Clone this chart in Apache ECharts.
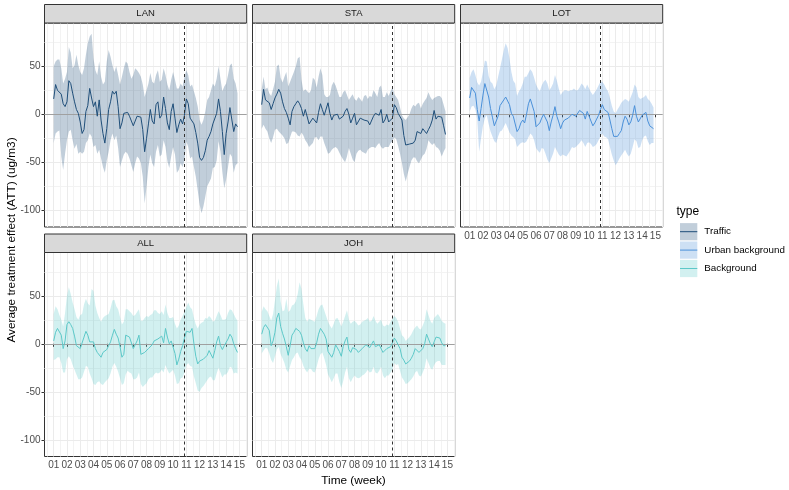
<!DOCTYPE html>
<html><head><meta charset="utf-8">
<script src="https://cdn.jsdelivr.net/npm/echarts@6/dist/echarts.min.js"></script>
<style>html,body{margin:0;padding:0;background:#fff}#c{width:789px;height:490px}</style>
</head><body><div id="c"></div>
<script>
// ---------- data ----------
const weekLabels = ['01','02','03','04','05','06','07','08','09','10','11','12','13','14','15'];
const weekTicks = [1,2,3,4,5,6,7,8,9,10,11,12,13,14,15];
const xMinorTicks = [0.5,1.5,2.5,3.5,4.5,5.5,6.5,7.5,8.5,9.5,10.5,11.5,12.5,13.5,14.5,15.5];
const yTicks = [-100,-50,0,50];
const yMinorTicks = [-75,-25,25,75];
const dayCount = 98;               // daily estimates, starting at week 01
const interventionDay = 69;        // dashed line
const panelNames = ['LAN','STA','LOT','ALL','JOH'];
const panelType = {LAN:'Traffic', STA:'Traffic', LOT:'Urban background', ALL:'Background', JOH:'Background'};
const typeNames = ['Traffic','Urban background','Background'];

const lanMean = [16,31,25,27,21,11,8,13,35,32, 22,13,5,1,-8,-20,-16,3,9,27, 17,8,13,-2,15,-6,-20,-30,-15,5, 13,24,21,24,8,-15,-9,1,3,2, -2,-7,-12,-7,-2,-1,-3,-16,-39,-25, -10,5,-7,-10,10,13,-4,-1,18,6, -9,-16,3,11,-4,-19,-11,-5,-10,-1, 16,11,-4,-2,-10,-19,-30,-45,-48,-45, -38,-27,-23,-18,-10,-10,1,16,3,-18, -42,-20,-8,7,5,-18,-10,-13];
const lanUpper = [50,55,57,57,48,32,37,44,70,64, 48,51,62,51,44,41,48,62,74,81, 84,58,46,41,55,39,31,34,55,67, 60,51,44,50,41,31,39,48,55,53, 44,37,41,48,46,43,39,31,18,25, 32,43,34,32,41,46,34,36,48,41, 31,25,36,44,36,27,27,32,29,39, 46,41,29,31,24,17,8,-6,-11,-6, 3,15,18,25,32,29,37,50,37,24, 29,32,41,51,53,37,32,22];
const lanLower = [-30,-20,-18,-17,-44,-58,-41,-27,-18,-16, -27,-36,-31,-41,-39,-41,-39,-30,-27,-20, -23,-34,-32,-41,-37,-46,-55,-61,-48,-39, -27,-20,-27,-22,-35,-55,-48,-42,-39,-41, -46,-53,-60,-51,-44,-46,-51,-65,-93,-75, -55,-42,-51,-55,-39,-32,-44,-42,-27,-34, -49,-56,-44,-34,-42,-61,-58,-51,-55,-48, -28,-34,-46,-44,-55,-65,-79,-94,-103,-96, -86,-75,-71,-67,-56,-55,-48,-28,-39,-60, -77,-68,-55,-41,-44,-61,-53,-51];

const staMean = [10,26,15,17,12,5,11,17,21,26, 22,13,6,2,-4,-11,3,8,11,14, 11,6,-2,5,6,-10,-12,-4,-6,-9, 2,11,5,-1,-2,12,1,-6,-1,-2, 0,-5,-5,-2,3,6,0,-9,-4,1, -11,-9,-4,-4,-6,-4,-7,-11,-9,-2, 1,3,-1,5,-9,-6,0,-8,-8,-4, 10,7,1,-1,-6,-22,-32,-33,-31,-33, -30,-27,-18,-17,-20,-15,-16,-20,-16,-12, -6,4,-5,-2,-1,-3,-12,-21];
const staUpper = [26,39,26,28,22,19,26,34,50,52, 38,33,39,44,29,34,39,44,50,58, 60,36,24,26,24,22,25,38,36,28, 39,48,41,21,18,18,20,30,34,30, 24,18,18,23,25,20,15,18,21,16, 14,18,16,13,19,20,16,19,18,25, 22,18,28,30,18,18,23,19,24,28, 21,18,15,7,-1,-4,-6,-3,0,6, 10,8,11,12,6,11,14,17,23,18, 15,17,18,19,19,17,10,3];
const staLower = [-15,-11,-15,-18,-25,-30,-24,-16,-15,-18, -20,-22,-25,-31,-30,-24,-18,-18,-19,-22, -23,-19,-22,-27,-30,-34,-32,-30,-24,-24, -27,-23,-23,-30,-35,-41,-40,-37,-35,-34, -36,-40,-44,-47,-50,-44,-35,-41,-47,-50, -41,-38,-37,-39,-40,-41,-37,-35,-34,-34, -35,-32,-30,-34,-36,-34,-34,-34,-30,-28, -24,-26,-33,-41,-51,-62,-70,-62,-55,-48, -45,-45,-49,-51,-47,-43,-41,-36,-27,-30, -32,-30,-34,-35,-38,-44,-39,-35];

const lotMean = [17,28,27,22,5,-7,6,20,32,32, 18,6,-3,-12,-12,-2,9,7,15,18, 16,10,1,-2,-1,-18,-15,-9,-6,-9, 0,11,16,14,3,-13,-12,-9,-4,0, -1,-8,-17,-8,-1,8,-2,-8,-15,-9, -6,-4,-4,-4,0,-2,-2,-1,4,6, 1,-5,3,5,-7,-12,-9,-5,-1,5, 10,5,5,2,-6,-15,-23,-24,-23,-20, -17,-8,-2,-5,-11,-8,-1,9,-2,-8, -9,-1,1,2,-7,-12,-12,-15];
const lotUpper = [38,44,47,41,33,30,34,44,56,55, 40,34,32,26,30,39,48,57,67,74, 69,58,44,35,32,19,24,27,32,39, 39,43,47,44,38,31,27,24,30,34, 36,32,25,28,32,41,35,27,20,23, 25,25,24,25,25,27,25,25,28,32, 30,26,31,27,23,20,23,26,30,34, 34,31,27,24,17,9,3,1,5,8, 12,14,16,15,13,18,23,31,28,18, 16,17,18,20,16,14,11,7];
const lotLower = [3,8,9,5,-6,-39,-25,-12,-4,-1, -10,-18,-23,-28,-30,-23,-18,-17,-13,-9, -14,-19,-22,-24,-26,-34,-32,-30,-29,-30, -28,-24,-20,-22,-27,-35,-38,-40,-35,-36, -41,-47,-51,-46,-41,-34,-38,-42,-44,-42, -43,-44,-41,-38,-34,-35,-34,-32,-30,-27, -30,-34,-30,-29,-31,-34,-33,-31,-27,-23, -20,-23,-24,-26,-34,-42,-48,-53,-50,-46, -43,-40,-37,-41,-44,-41,-34,-26,-28,-35, -34,-27,-23,-22,-28,-32,-30,-30];

const allMean = [3,12,16,17,9,-5,3,20,23,20, 16,8,-2,-4,-5,-6,7,13,9,2, 3,2,-5,-9,-9,-14,-9,-8,-6,-5, 2,9,15,10,6,-3,-14,-11,9,9, 7,5,-5,-1,3,9,-11,-12,-9,-8, -5,-3,-1,3,3,5,3,8,1,16, 7,0,3,2,-10,-22,-16,-8,-2,6, 13,11,12,16,0,-13,-21,-18,-17,-16, -16,-12,-7,-9,-15,-7,2,8,-2,-6, -2,-2,5,10,7,0,-5,-9];
const allUpper = [31,39,36,30,25,18,32,50,59,52, 43,36,28,25,30,31,41,47,42,40, 57,55,40,32,27,23,27,29,30,31, 37,45,46,39,36,28,20,23,36,36, 34,32,29,30,33,36,24,24,27,29, 28,30,31,35,35,32,31,34,30,41, 32,27,27,28,21,16,19,25,29,33, 38,43,38,36,27,20,16,20,22,23, 27,26,29,27,23,24,29,34,30,25, 25,26,32,36,35,31,27,24];
const allLower = [-17,-16,-14,-14,-20,-30,-30,-16,-13,-16, -22,-27,-32,-37,-37,-35,-29,-23,-24,-31, -36,-42,-43,-40,-39,-42,-43,-40,-38,-36, -31,-24,-20,-24,-29,-36,-43,-41,-32,-28, -30,-31,-37,-37,-35,-30,-42,-45,-43,-41, -37,-35,-35,-32,-30,-31,-30,-27,-30,-22, -27,-31,-29,-27,-33,-42,-41,-36,-35,-30, -22,-20,-23,-24,-34,-41,-49,-50,-46,-44, -41,-38,-35,-34,-38,-38,-31,-25,-30,-35, -32,-32,-29,-24,-25,-31,-30,-31];

const johMean = [10,17,20,18,14,-2,3,12,27,32, 18,11,5,-3,-12,-2,9,12,16,16, 13,9,1,-5,-8,-2,-5,-6,-5,1, 10,16,18,10,5,-8,-10,-14,-9,-1, 0,-8,-13,-3,3,7,-6,-9,-4,-3, -6,-9,-7,-5,-3,-1,0,-4,-2,3, -3,-4,-1,0,-9,-8,-5,-7,-3,1, 6,3,2,-5,-14,-17,-21,-20,-18,-15, -11,-5,-4,-9,-10,-5,0,10,5,0, -3,2,7,7,6,1,-2,-2];
const johUpper = [33,39,36,34,29,24,31,45,60,68, 44,34,35,47,33,35,40,41,44,52, 64,57,41,27,23,26,25,24,23,29, 36,40,41,35,29,23,19,16,21,26, 27,23,18,23,29,35,25,21,23,24, 22,19,20,23,24,25,27,23,24,29, 24,21,23,25,19,18,20,19,23,26, 29,27,23,16,9,7,3,5,7,10, 14,17,19,16,15,19,24,36,30,24, 21,27,29,31,28,24,22,21];
const johLower = [-10,-7,-4,-5,-10,-17,-20,-13,-6,-3, -11,-15,-20,-27,-30,-23,-17,-14,-10,-9, -14,-17,-23,-27,-30,-26,-26,-29,-30,-24, -16,-11,-9,-15,-22,-32,-36,-40,-36,-31, -31,-40,-46,-39,-30,-24,-36,-40,-36,-33, -35,-36,-35,-33,-32,-30,-27,-30,-29,-24, -30,-31,-28,-24,-33,-36,-33,-33,-30,-27, -20,-22,-21,-28,-35,-38,-42,-41,-39,-37, -34,-30,-28,-33,-34,-30,-25,-15,-20,-25, -27,-22,-19,-18,-18,-22,-22,-22];

const panelData = {
  LAN: {mean: lanMean, lower: lanLower, upper: lanUpper},
  STA: {mean: staMean, lower: staLower, upper: staUpper},
  LOT: {mean: lotMean, lower: lotLower, upper: lotUpper},
  ALL: {mean: allMean, lower: allLower, upper: allUpper},
  JOH: {mean: johMean, lower: johLower, upper: johUpper}
};

// time in week units (week 01 = first day)
const time = Array.from({length: dayCount}, (_, i) => 1 + i / 7);
const interventionWeek = 1 + interventionDay / 7;

// ---------- styling / layout ----------
const FONT = '"Liberation Sans", Arial, sans-serif';
const typeColor = {'Traffic': '#1f4e79', 'Urban background': '#4a90d9', 'Background': '#5cc8c8'};
const xMin = 0.307, xMax = 15.55, yMin = -117.4, yMax = 95.1;
const colLeft = [44.5, 252.5, 460.5];
const rowTop = [23, 252.5];
const panelW = 202.2, panelH = 204, stripH = 18.5;
const pos = {LAN:[0,0], STA:[0,1], LOT:[0,2], ALL:[1,0], JOH:[1,1]};
const showX = {LAN:false, STA:false, LOT:true, ALL:true, JOH:true};
const showY = {LAN:true, STA:false, LOT:false, ALL:true, JOH:false};

const grids = [], xAxes = [], yAxes = [], series = [], graphic = [];
const majorLine = {color: '#ebebeb', width: 1, type: 'solid'};
const minorLine = {color: '#f3f3f3', width: 1, type: 'solid'};
const gridLineData = [].concat(
  xMinorTicks.map(v => ({xAxis: v, lineStyle: minorLine})),
  yMinorTicks.map(v => ({yAxis: v, lineStyle: minorLine})),
  weekTicks.map(v => ({xAxis: v, lineStyle: majorLine})),
  yTicks.map(v => ({yAxis: v, lineStyle: majorLine}))
);

panelNames.forEach((name, i) => {
  const [r, c] = pos[name];
  const left = colLeft[c], top = rowTop[r];
  const col = typeColor[panelType[name]];
  const d = panelData[name];
  grids.push({left: left, top: top, width: panelW, height: panelH, show: true,
    borderColor: '#333333', borderWidth: 1, backgroundColor: 'transparent'});
  xAxes.push({gridIndex: i, type: 'value', min: xMin, max: xMax,
    axisLine: {show: false}, splitLine: {show: false},
    axisTick: {show: showX[name], customValues: weekTicks, length: 3, lineStyle: {color: '#333', width: 1}},
    axisLabel: {show: showX[name], customValues: weekTicks, hideOverlap: false, margin: 4,
      formatter: v => weekLabels[weekTicks.indexOf(Math.round(v))],
      fontSize: 10, color: '#4d4d4d', fontFamily: FONT}});
  yAxes.push({gridIndex: i, type: 'value', min: yMin, max: yMax,
    axisLine: {show: false}, splitLine: {show: false},
    axisTick: {show: showY[name], customValues: yTicks, length: 3, lineStyle: {color: '#333', width: 1}},
    axisLabel: {show: showY[name], customValues: yTicks, hideOverlap: false, margin: 4,
      fontSize: 10, color: '#4d4d4d', fontFamily: FONT}});
  // invisible carrier for the panel grid lines (drawn underneath)
  series.push({type: 'line', name: name + '-grid', xAxisIndex: i, yAxisIndex: i,
    data: time.map((t, k) => [t, d.mean[k]]), symbol: 'none', lineStyle: {opacity: 0}, z: 0, silent: true,
    markLine: {silent: true, z: 0, symbol: ['none', 'none'], label: {show: false}, animation: false, data: gridLineData}});
  // confidence ribbon
  const ribbon = time.map((t, k) => [t, d.lower[k], d.upper[k]]);
  series.push({type: 'custom', name: name + '-ribbon', xAxisIndex: i, yAxisIndex: i,
    data: ribbon, encode: {x: 0, y: [1, 2]}, z: 2, silent: true, clip: true,
    renderItem: (params, api) => {
      if (params.dataIndex !== 0) return null;
      const pts = [];
      for (let k = 0; k < ribbon.length; k++) pts.push(api.coord([ribbon[k][0], ribbon[k][2]]));
      for (let k = ribbon.length - 1; k >= 0; k--) pts.push(api.coord([ribbon[k][0], ribbon[k][1]]));
      return {type: 'polygon', shape: {points: pts}, style: {fill: col, opacity: 0.28}};
    },
    markLine: {silent: true, z: 2.5, symbol: ['none', 'none'], label: {show: false}, animation: false,
      data: [{yAxis: 0, lineStyle: {color: '#a0a0a0', width: 1, type: 'solid'}}]}});
  // mean effect line
  series.push({type: 'line', name: name, xAxisIndex: i, yAxisIndex: i,
    data: time.map((t, k) => [t, d.mean[k]]), symbol: 'none', showSymbol: false,
    lineStyle: {color: col, width: 1}, z: 3, silent: true,
    markLine: {silent: true, z: 5, symbol: ['none', 'none'], label: {show: false}, animation: false,
      data: [{xAxis: interventionWeek, lineStyle: {color: '#333333', width: 1, type: [3, 3]}}]}});
  // facet strip
  graphic.push({type: 'rect', shape: {x: left, y: top - stripH, width: panelW, height: stripH},
    style: {fill: '#d9d9d9', stroke: '#333333', lineWidth: 1}, z: 10});
  graphic.push({type: 'text', x: left + panelW / 2, y: top - stripH / 2,
    style: {text: name, align: 'center', verticalAlign: 'middle', fontSize: 9.5, fontFamily: FONT, fill: '#1a1a1a'}, z: 11});
});

// axis titles
graphic.push({type: 'text', x: 353.5, y: 481,
  style: {text: 'Time (week)', align: 'center', verticalAlign: 'middle', fontSize: 11.8, fontFamily: FONT, fill: '#000'}});
graphic.push({type: 'text', x: 11.5, y: 240, rotation: Math.PI / 2,
  style: {text: 'Average treatment effect (ATT) (ug/m3)', align: 'center', verticalAlign: 'middle', fontSize: 11.8, fontFamily: FONT, fill: '#000'}});

// legend
graphic.push({type: 'text', x: 676.5, y: 211.5,
  style: {text: 'type', align: 'left', verticalAlign: 'middle', fontSize: 12, fontFamily: FONT, fill: '#000'}});
typeNames.forEach((t, j) => {
  const cy = 231.7 + j * 18.4;
  graphic.push({type: 'rect', shape: {x: 680, y: cy - 8.6, width: 17.3, height: 17.2},
    style: {fill: typeColor[t], opacity: 0.28}});
  graphic.push({type: 'line', shape: {x1: 680, y1: cy, x2: 697.3, y2: cy},
    style: {stroke: typeColor[t], lineWidth: 1}});
  graphic.push({type: 'text', x: 704.3, y: cy,
    style: {text: t, align: 'left', verticalAlign: 'middle', fontSize: 9.8, fontFamily: FONT, fill: '#000'}});
});

const chart = echarts.init(document.getElementById('c'), null, {renderer: 'canvas'});
chart.setOption({animation: false, grid: grids, xAxis: xAxes, yAxis: yAxes, series: series, graphic: graphic});
</script></body></html>
